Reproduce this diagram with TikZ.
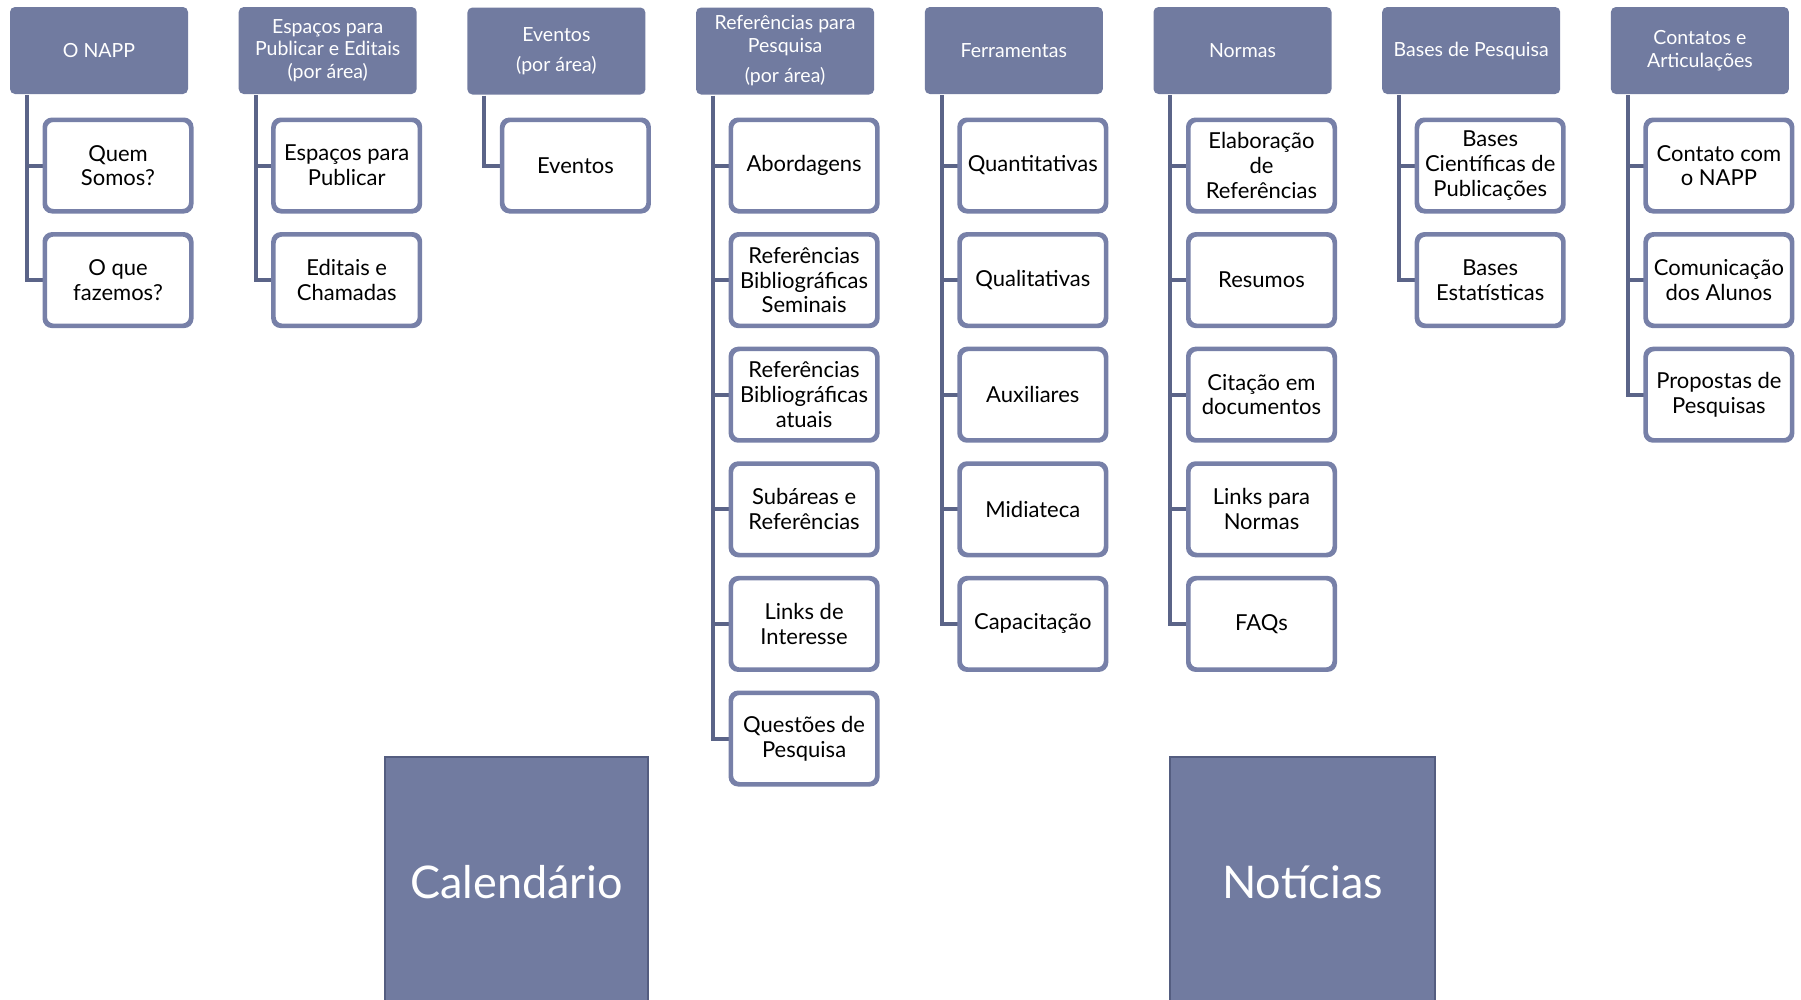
\documentclass[tikz,border=0pt]{standalone}
\usepackage{fontspec}
\setmainfont{Lato}
\definecolor{hdr}{HTML}{717BA0}
\definecolor{bord}{HTML}{7780A8}
\definecolor{conn}{HTML}{5B6488}
\definecolor{bigb}{HTML}{545D80}
\begin{document}
\begin{tikzpicture}[x=1pt,y=-1pt,
  hdrbox/.style={fill=hdr,rounded corners=5pt,minimum width=178pt,minimum height=87pt,inner sep=0pt,align=center,text=white,font=\fontsize{19.5}{22.5}\selectfont},
  kid/.style={draw=bord,line width=3pt,fill=white,rounded corners=8pt,minimum width=145pt,minimum height=90pt,inner sep=0pt,align=center,text=black,font=\fontsize{22}{24.7}\selectfont},
  link/.style={draw=conn,line width=4pt},
  bigbox/.style={fill=hdr,draw=bigb,line width=2.5pt,minimum height=250pt,inner sep=0pt,text=white,font=\fontsize{45}{50}\selectfont}]
\useasboundingbox (0,0) rectangle (1801,999);
% headers
\node[hdrbox] (h0) at (99,50.5) {O NAPP};
\node[hdrbox] (h1) at (327.7,50.5) {Espaços para\\Publicar e Editais\\(por área)};
\node[hdrbox] (h2) at (556.4,51) {Eventos\\[8pt](por área)};
\node[hdrbox] (h3) at (785.1,51) {Referências para\\Pesquisa\\[8pt](por área)};
\node[hdrbox] (h4) at (1013.8,50.5) {Ferramentas};
\node[hdrbox] (h5) at (1242.5,50.5) {Normas};
\node[hdrbox] (h6) at (1471.2,50.5) {Bases de Pesquisa};
\node[hdrbox] (h7) at (1699.9,50.5) {Contatos e\\Articulações};
% children
\node[kid] (c0a) at (118,165.5) {Quem\\Somos?};
\node[kid] (c0b) at (118,280.1) {O que\\fazemos?};
\node[kid] (c1a) at (346.7,165.5) {Espaços para\\Publicar};
\node[kid] (c1b) at (346.7,280.1) {Editais e\\Chamadas};
\node[kid] (c2a) at (575.4,165.5) {Eventos};
\node[kid] (c3a) at (804.1,165.5) {Abordagens};
\node[kid] (c3b) at (804.1,280.1) {Referências\\Bibliográficas\\Seminais};
\node[kid] (c3c) at (804.1,394.7) {Referências\\Bibliográficas\\atuais};
\node[kid] (c3d) at (804.1,509.3) {Subáreas e\\Referências};
\node[kid] (c3e) at (804.1,623.9) {Links de\\Interesse};
\node[kid] (c3f) at (804.1,738.5) {Questões de\\Pesquisa};
\node[kid] (c4a) at (1032.8,165.5) {Quantitativas};
\node[kid] (c4b) at (1032.8,280.1) {Qualitativas};
\node[kid] (c4c) at (1032.8,394.7) {Auxiliares};
\node[kid] (c4d) at (1032.8,509.3) {Midiateca};
\node[kid] (c4e) at (1032.8,623.9) {Capacitação};
\node[kid] (c5a) at (1261.5,165.5) {Elaboração\\de\\Referências};
\node[kid] (c5b) at (1261.5,280.1) {Resumos};
\node[kid] (c5c) at (1261.5,394.7) {Citação em\\documentos};
\node[kid] (c5d) at (1261.5,509.3) {Links para\\Normas};
\node[kid] (c5e) at (1261.5,623.9) {FAQs};
\node[kid] (c6a) at (1490.2,165.5) {Bases\\Científicas de\\Publicações};
\node[kid] (c6b) at (1490.2,280.1) {Bases\\Estatísticas};
\node[kid] (c7a) at (1718.9,165.5) {Contato com\\o NAPP};
\node[kid] (c7b) at (1718.9,280.1) {Comunicação\\dos Alunos};
\node[kid] (c7c) at (1718.9,394.7) {Propostas de\\Pesquisas};
% trunk start points
\foreach \i in {0,...,7}{\coordinate (t\i) at ([xshift=17pt,yshift=-1pt]h\i.south west);}
% connectors
\draw[link] (t0) |- (c0b.west) (t0) |- (c0a.west);
\draw[link] (t1) |- (c1b.west) (t1) |- (c1a.west);
\draw[link] (t2) |- (c2a.west);
\draw[link] (t3) |- (c3f.west) (t3) |- (c3a.west) (t3) |- (c3b.west) (t3) |- (c3c.west) (t3) |- (c3d.west) (t3) |- (c3e.west);
\draw[link] (t4) |- (c4e.west) (t4) |- (c4a.west) (t4) |- (c4b.west) (t4) |- (c4c.west) (t4) |- (c4d.west);
\draw[link] (t5) |- (c5e.west) (t5) |- (c5a.west) (t5) |- (c5b.west) (t5) |- (c5c.west) (t5) |- (c5d.west);
\draw[link] (t6) |- (c6b.west) (t6) |- (c6a.west);
\draw[link] (t7) |- (c7c.west) (t7) |- (c7a.west) (t7) |- (c7b.west);
% redraw children borders on top of branch ends
\foreach \n in {c0a,c0b,c1a,c1b,c2a,c3a,c3b,c3c,c3d,c3e,c3f,c4a,c4b,c4c,c4d,c4e,c5a,c5b,c5c,c5d,c5e,c6a,c6b,c7a,c7b,c7c}{\draw[draw=bord,line width=3pt,rounded corners=8pt] (\n.north west) rectangle (\n.south east);}
% big boxes
\node[bigbox,minimum width=263pt] (cal) at (516.5,882) {Calendário};
\node[bigbox,minimum width=265pt] (not) at (1302.5,882) {Notícias};
\end{tikzpicture}
\end{document}
